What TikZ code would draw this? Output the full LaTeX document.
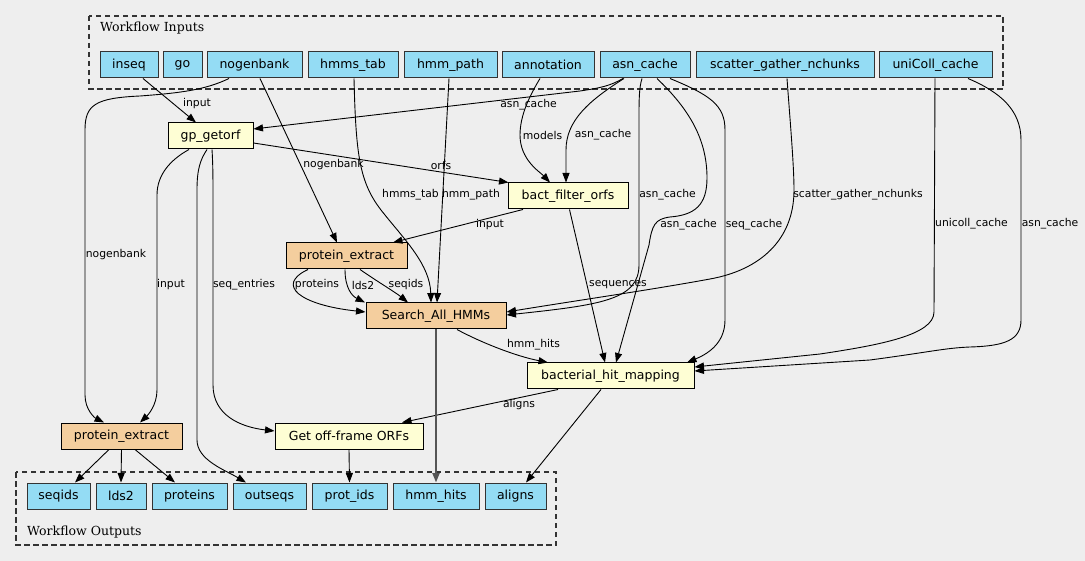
\documentclass[tikz,border=0pt]{standalone}
\usepackage{fontspec}
\setmainfont{DejaVu Sans}
\newfontfamily\wfserif{DejaVu Serif}
\usetikzlibrary{arrows.meta}
\definecolor{canvas}{HTML}{EEEEEE}
\definecolor{iofill}{HTML}{94DCF4}
\definecolor{toolfill}{HTML}{FEFED4}
\definecolor{protfill}{HTML}{F4CE9E}
\definecolor{ink}{HTML}{000000}
\definecolor{frame}{HTML}{333333}
\definecolor{heavy}{HTML}{555555}
\newcommand{\wfnodefont}{\fontsize{12.5}{15}\selectfont}
\newcommand{\wfedgefont}{\fontsize{10.8}{13}\selectfont}
\tikzset{
  io/.style       = {draw=frame, fill=iofill, line width=1pt, minimum height=26pt,
                     inner sep=0pt, font=\wfnodefont},
  tool/.style     = {draw=ink, fill=toolfill, line width=1pt, minimum height=26pt,
                     inner sep=0pt, font=\wfnodefont},
  prot/.style     = {draw=ink, fill=protfill, line width=1pt, minimum height=26pt,
                     inner sep=0pt, font=\wfnodefont},
  wire/.style     = {-{Triangle[length=9.5pt,width=7pt]}, draw=ink, line width=0.9pt},
  fat/.style      = {-{Triangle[length=9.5pt,width=7pt]}, draw=heavy, line width=2pt},
  lbl/.style      = {font=\wfedgefont, text=ink, inner sep=0pt},
  grp/.style      = {draw=frame, dash pattern=on 5.5pt off 3.5pt, line width=1.1pt},
  grptitle/.style = {font=\wfserif\wfnodefont, inner sep=0pt, anchor=base west},
}
\newcommand{\wfin}[4]{\node[io, minimum width=#3pt] (#1) at (#2,65) {#4};}
\newcommand{\wfout}[4]{\node[io, minimum width=#3pt] (#1) at (#2,496) {#4};}

\begin{document}
\begin{tikzpicture}[x=1pt,y=-1pt]
\fill[canvas] (0,0) rectangle (1085,561);

% ------------------------------------------------------------------ clusters
\draw[grp] (89,16) rectangle (1003,89);
\node[grptitle] (intitle) at (100,31.7) {Workflow Inputs};
\draw[grp] (16,472) rectangle (556,545);
\node[grptitle] (outtitle) at (27,535) {Workflow Outputs};

% ------------------------------------------------------------------ inputs
\wfin{inseq}{129}{58}{inseq}
\wfin{go}{182.5}{39}{go}
\wfin{nogenbank}{254.5}{95}{nogenbank}
\wfin{hmmstab}{353}{90}{hmms\_tab}
\wfin{hmmpath}{450.5}{93}{hmm\_path}
\wfin{annotation}{548}{92}{annotation}
\wfin{asncache}{645}{90}{asn\_cache}
\wfin{nchunks}{785}{178}{scatter\_gather\_nchunks}
\wfin{unicoll}{935.5}{113}{uniColl\_cache}

% ------------------------------------------------------------------ steps
\node[tool, minimum width=85pt]  (getorf)   at (210.5,136) {gp\_getorf};
\node[tool, minimum width=120pt] (filter)   at (568,196)   {bact\_filter\_orfs};
\node[prot, minimum width=121pt] (extractA) at (346.5,256) {protein\_extract};
\node[prot, minimum width=140pt] (search)   at (436,316)   {Search\_All\_HMMs};
\node[tool, minimum width=167pt] (mapping)  at (610.5,376) {bacterial\_hit\_mapping};
\node[prot, minimum width=121pt] (extractB) at (121.5,436) {protein\_extract};
\node[tool, minimum width=148pt] (offframe) at (349,436)   {Get off-frame ORFs};

% ------------------------------------------------------------------ outputs
\wfout{seqids}{58.5}{63}{seqids}
\wfout{lds}{121}{50}{lds2}
\wfout{proteins}{189.5}{75}{proteins}
\wfout{outseqs}{269.5}{73}{outseqs}
\wfout{protids}{349.5}{75}{prot\_ids}
\wfout{hmmhits}{436}{86}{hmm\_hits}
\wfout{aligns}{515.5}{61}{aligns}

% ------------------------------------------------------------------ from the inputs
\draw[wire] ([xshift=14pt]inseq.south) -- ([xshift=-14.5pt]getorf.north)
  node[lbl] (l1) at (197,104) {input};
\draw[wire] ([xshift=-25.5pt]nogenbank.south) .. controls (205,90) and (180,93) .. (140,96)
  .. controls (95,98) and (85,105) .. (85,130) -- (85,395)
  .. controls (85,410) and (95,418) .. ([xshift=-17.5pt]extractB.north)
  node[lbl] (l2) at (116,255) {nogenbank};
\draw[wire] ([xshift=5.5pt]nogenbank.south) -- ([xshift=-9.5pt]extractA.north)
  node[lbl] (l3) at (333.5,165) {nogenbank};
\draw[wire] ([xshift=1pt]hmmstab.south) .. controls (356,160) and (360,185) .. (385,215)
  .. controls (405,240) and (430,265) .. ([xshift=-5pt]search.north)
  node[lbl] (l4) at (410.5,195) {hmms\_tab};
\draw[wire] ([xshift=-1.5pt]hmmpath.south) -- ([xshift=1pt]search.north)
  node[lbl] (l5) at (471,195) {hmm\_path};
\draw[wire] ([xshift=-8pt]annotation.south) .. controls (530,95) and (520,115) .. (520,135)
  .. controls (520,160) and (540,172) .. ([xshift=-18pt]filter.north)
  node[lbl] (l6) at (542.5,135) {models};
\draw[wire] ([xshift=-22pt]asncache.south) .. controls (610,86) and (600,88) .. (580,91)
  -- ([yshift=7pt]getorf.east)
  node[lbl] (l7) at (528.5,104.5) {asn\_cache};
\draw[wire] ([xshift=-21pt]asncache.south) .. controls (590,100) and (566,120) .. (566,150)
  -- ([xshift=-2pt]filter.north)
  node[lbl] (l8) at (603,135) {asn\_cache};
\draw[wire] ([xshift=-3pt]asncache.south) .. controls (639,88) and (639,100) .. (639,120)
  -- (639,265) .. controls (639,300) and (600,305) .. ([yshift=1pt]search.east)
  node[lbl] (l9) at (667.5,195) {asn\_cache};
\draw[wire] ([xshift=12pt]asncache.south) .. controls (690,110) and (707,140) .. (707,178)
  .. controls (707,205) and (695,215) .. (670,217)
  .. controls (655,219) and (652,225) .. (649,245) -- ([xshift=5.5pt]mapping.north)
  node[lbl] (l10) at (688.5,225) {asn\_cache};
\draw[wire] ([xshift=25pt]asncache.south) .. controls (710,95) and (725,105) .. (725,130)
  -- (725,320) .. controls (725,345) and (705,355) .. ([xshift=76.5pt]mapping.north)
  node[lbl] (l11) at (754,225) {seq\_cache};
\draw[wire] ([xshift=2pt]nchunks.south) .. controls (790,120) and (794,165) .. (794,190)
  .. controls (794,240) and (760,270) .. (710,279)
  .. controls (650,290) and (580,300) .. ([yshift=4pt]search.east)
  node[lbl] (l12) at (858,195) {scatter\_gather\_nchunks};
\draw[wire] ([xshift=-0.5pt]unicoll.south) -- (934,312)
  .. controls (934,335) and (880,345) .. (820,354) -- ([yshift=9pt]mapping.east)
  node[lbl] (l13) at (971.5,224) {unicoll\_cache};
\draw[wire] ([xshift=32.5pt]unicoll.south) .. controls (1000,92) and (1021,110) .. (1021,140)
  -- (1021,320) .. controls (1021,340) and (1005,346) .. (970,347)
  .. controls (945,348) and (930,352) .. (870,360) -- ([yshift=5pt]mapping.east)
  node[lbl] (l14) at (1050,224) {asn\_cache};

% ------------------------------------------------------------------ between the steps
\draw[wire] ([yshift=-7pt]getorf.east) -- ([xshift=1pt]filter.north west)
  node[lbl] (l15) at (441,165) {orfs};
\draw[wire] ([xshift=-21.5pt]getorf.south) .. controls (170,160) and (157,175) .. (157,195)
  -- (157,390) .. controls (157,405) and (148,415) .. ([xshift=18.5pt]extractB.north)
  node[lbl] (l16) at (171,285) {input};
\draw[wire] ([xshift=-3.5pt]getorf.south) .. controls (200,160) and (197,170) .. (197,190)
  -- (197,440) .. controls (197,460) and (225,470) .. ([xshift=-23.5pt]outseqs.north);
\draw[wire] ([xshift=1.5pt]getorf.south) .. controls (213,165) and (213,180) .. (213,200)
  -- (213,385) .. controls (213,415) and (240,427) .. ([yshift=5pt]offframe.west)
  node[lbl] (l17) at (244,285) {seq\_entries};
\draw[wire] ([xshift=-45pt]filter.south) -- ([xshift=46.5pt]extractA.north)
  node[lbl] (l18) at (490,225) {input};
\draw[wire] ([xshift=1.5pt]filter.south) -- ([xshift=-5.5pt]mapping.north)
  node[lbl] (l19) at (618,285) {sequences};
\draw[wire] ([xshift=-38.5pt]extractA.south) .. controls (275,285) and (300,305) .. ([yshift=4pt]search.west)
  node[lbl] (l20) at (317,285) {proteins};
\draw[wire] ([xshift=-1.5pt]extractA.south) .. controls (345,288) and (352,296) .. ([xshift=-71pt]search.north)
  node[lbl] (l21) at (363,285) {lds2};
\draw[wire] ([xshift=13.5pt]extractA.south) .. controls (378,282) and (395,292) .. ([xshift=-28pt]search.north)
  node[lbl] (l22) at (406,285) {seqids};
\draw[wire] ([xshift=21pt]search.south) .. controls (480,342) and (515,356) .. ([xshift=-62.5pt]mapping.north)
  node[lbl] (l23) at (533.5,345) {hmm\_hits};
\draw[wire] ([xshift=-52.5pt]mapping.south) -- ([xshift=53pt]offframe.north)
  node[lbl] (l24) at (519,405) {aligns};

% ------------------------------------------------------------------ to the outputs
\draw[fat] (search.south) -- (hmmhits.north);
\draw[wire] ([xshift=-9.5pt]mapping.south) -- ([xshift=10.5pt]aligns.north);
\draw[wire] (offframe.south) -- (protids.north);
\foreach \s/\t/\e in {-12.5/seqids/16.5, 0/lds/0, 13.5/proteins/-14.5}{\draw[wire] ([xshift=\s pt]extractB.south) -- ([xshift=\e pt]\t.north);}

\end{tikzpicture}
\end{document}
